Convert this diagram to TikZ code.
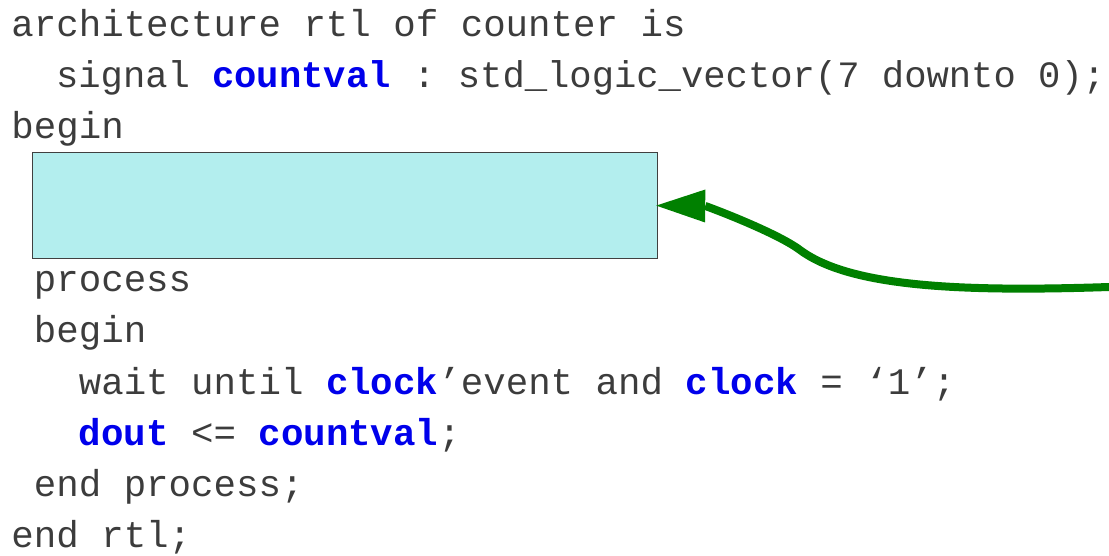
\documentclass[tikz,border=0pt]{standalone}
\usepackage{fontspec}
\newfontfamily\codefont{Liberation Mono}
\usetikzlibrary{arrows.meta}
\definecolor{codegray}{RGB}{60,60,60}
\definecolor{kwblue}{RGB}{0,0,235}
\definecolor{boxfill}{RGB}{179,238,238}
\definecolor{boxline}{RGB}{64,64,64}
\definecolor{arrowgreen}{RGB}{0,128,0}
\newcommand{\kw}[1]{\textcolor{kwblue}{\bfseries #1}}
\frenchspacing
\begin{document}
\begin{tikzpicture}[x=1pt,y=-1pt,
  codeline/.style={anchor=base west, inner sep=0pt, text=codegray,
    font=\codefont\frenchspacing\fontsize{37.45}{44}\selectfont},
  longline/.style={codeline, font=\codefont\frenchspacing\fontsize{37.2}{44}\selectfont},
  blankbox/.style={draw=boxline, fill=boxfill, line width=1.2pt, inner sep=0pt,
    minimum width=625pt, minimum height=106pt, anchor=north west},
  flow/.style={draw=arrowgreen, line width=8pt,
    -{Triangle[length=49pt,width=33pt,line width=0pt]}}]
\useasboundingbox (0,0) rectangle (1109,556);
\node[codeline] (l1) at (11.2,36.3) {architecture rtl of counter is};
\node[longline] (l2) at (11.2,87.4) {\ \ signal \kw{countval}\ :\ std\_logic\_vector(7 downto 0);};
\node[codeline] (l3) at (11.2,138.5) {begin};
\node[blankbox] (box) at (32,152) {};
\node[codeline] (l6) at (11.2,291.8) {\ process};
\node[codeline] (l7) at (11.2,342.9) {\ begin};
\node[codeline] (l8) at (11.2,394.0) {\ \ \ wait until \kw{clock}’event and \kw{clock} = ‘1’;};
\node[codeline] (l9) at (11.2,445.1) {\ \ \ \kw{dout} <= \kw{countval};};
\node[codeline] (l10) at (11.2,496.2) {\ end process;};
\node[codeline] (l11) at (11.2,547.3) {end rtl;};
\coordinate (start) at (1109,287);
\draw[flow] (start) .. controls (960,292) and (850,287) .. (800,250)
  .. controls (776,232) and (706,206) .. ([xshift=-2pt]box.east);
\end{tikzpicture}
\end{document}
